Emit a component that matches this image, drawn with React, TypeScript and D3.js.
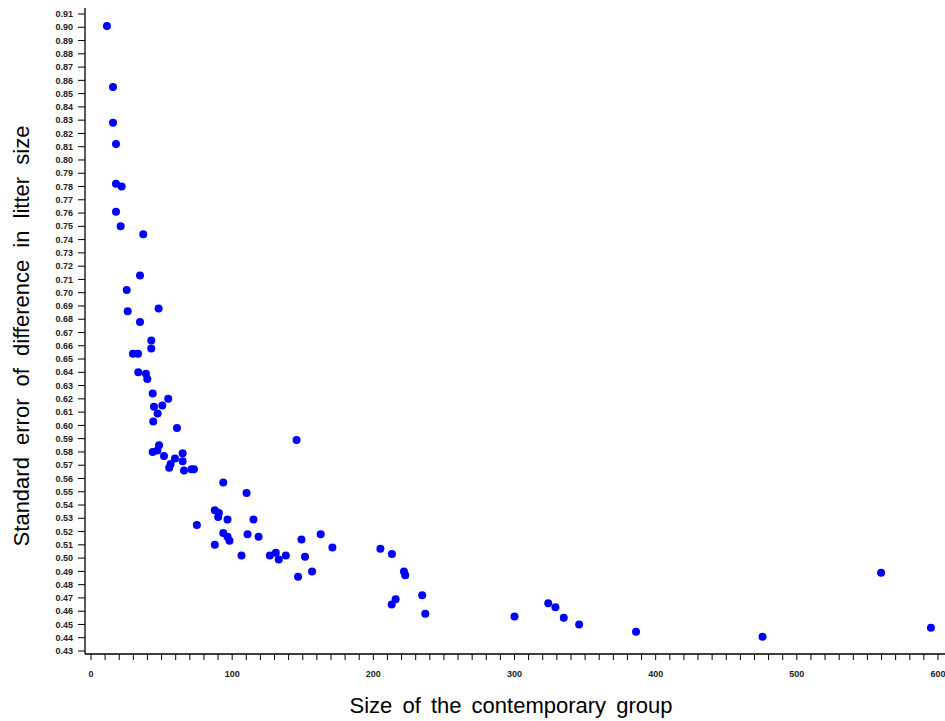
import React from "react";
import * as d3 from "d3";

const groupSize: number[] = [
  11.3, 15.6, 15.6, 17.7, 17.7, 21.7, 17.7, 21.0, 37.0, 34.7,
  25.3, 26.0, 47.9, 34.7, 42.7, 42.7, 29.7, 33.3, 33.5, 38.9,
  39.9, 43.7, 54.7, 50.5, 44.6, 47.2, 44.1, 60.9, 145.6, 48.2,
  43.7, 47.0, 51.7, 64.9, 59.5, 64.9, 56.4, 55.4, 65.9, 71.2,
  72.9, 93.7, 110.2, 87.7, 90.6, 90.1, 96.7, 115.1, 75.0, 93.7,
  96.7, 98.1, 110.9, 118.7, 87.7, 149.1, 162.7, 171.0, 106.6, 126.7,
  130.9, 133.0, 138.0, 151.6, 156.6, 146.7, 205.0, 213.2, 221.7, 222.6,
  215.8, 213.0, 234.6, 236.8, 300.0, 323.9, 329.0, 334.9, 345.8, 386.1,
  475.7, 559.7, 595.0,
];
const stdError: number[] = [
  0.901, 0.855, 0.828, 0.812, 0.782, 0.780, 0.761, 0.750, 0.744, 0.713,
  0.702, 0.686, 0.688, 0.678, 0.664, 0.658, 0.654, 0.654, 0.640, 0.639,
  0.635, 0.624, 0.620, 0.615, 0.614, 0.609, 0.603, 0.598, 0.589, 0.585,
  0.580, 0.581, 0.577, 0.579, 0.575, 0.573, 0.571, 0.568, 0.566, 0.567,
  0.567, 0.557, 0.549, 0.536, 0.534, 0.531, 0.529, 0.529, 0.525, 0.519,
  0.516, 0.513, 0.518, 0.516, 0.510, 0.514, 0.518, 0.508, 0.502, 0.502,
  0.504, 0.499, 0.502, 0.501, 0.490, 0.486, 0.507, 0.503, 0.490, 0.487,
  0.469, 0.465, 0.472, 0.458, 0.456, 0.466, 0.463, 0.455, 0.450, 0.4445,
  0.4408, 0.489, 0.4476,
];
const yTicks: number[] = d3.range(43, 92).map((v) => v / 100);
const xMajorTicks: number[] = [0, 100, 200, 300, 400, 500, 600];
const xMinorTicks: number[] = d3.range(0, 601, 10);
const xTitle = "Size of the contemporary group";
const yTitle = "Standard error of difference in litter size";

export default function App() {
  const W = 945;
  const H = 721;
  const axisX = 85;
  const axisY = 654;
  const x = d3.scaleLinear().domain([0, 600]).range([91, 938]);
  const y = d3.scaleLinear().domain([0.43, 0.91]).range([651, 14]);
  const font = "'Liberation Sans', Arial, sans-serif";
  return (
    <svg
      width={W}
      height={H}
      style={{ position: "absolute", left: 0, top: 0, background: "#fff" }}
    >
      <rect width={W} height={H} fill="#fff" />
      <line x1={axisX} x2={axisX} y1={8} y2={axisY} stroke="#000" strokeWidth={1.3} />
      <line x1={axisX} x2={W} y1={axisY} y2={axisY} stroke="#000" strokeWidth={1.3} />
      {yTicks.map((t) => (
        <g key={"y" + t}>
          <line x1={axisX - 7} x2={axisX} y1={y(t)} y2={y(t)} stroke="#000" strokeWidth={1} />
          <text
            x={axisX - 12}
            y={y(t)}
            dy="0.35em"
            textAnchor="end"
            fontFamily={font}
            fontSize={9}
            fontWeight="bold"
            fill="#222"
          >
            {d3.format(".2f")(t)}
          </text>
        </g>
      ))}
      {xMinorTicks.map((t) => (
        <line key={"xm" + t} x1={x(t)} x2={x(t)} y1={axisY} y2={axisY + 6} stroke="#000" strokeWidth={1} />
      ))}
      {xMajorTicks.map((t) => (
        <text
          key={"xl" + t}
          x={x(t)}
          y={677}
          textAnchor="middle"
          fontFamily={font}
          fontSize={9}
          fontWeight="bold"
          fill="#222"
        >
          {t}
        </text>
      ))}
      {groupSize.map((g, i) => (
        <circle key={"p" + i} cx={x(g)} cy={y(stdError[i])} r={4} fill="#0000ff" />
      ))}
      <text
        x={511}
        y={713}
        textAnchor="middle"
        fontFamily={font}
        fontSize={22}
        fill="#000"
        wordSpacing={4}
      >
        {xTitle}
      </text>
      <text
        transform={`translate(29,336) rotate(-90)`}
        textAnchor="middle"
        fontFamily={font}
        fontSize={22}
        fill="#000"
        wordSpacing={6}
      >
        {yTitle}
      </text>
    </svg>
  );
}
